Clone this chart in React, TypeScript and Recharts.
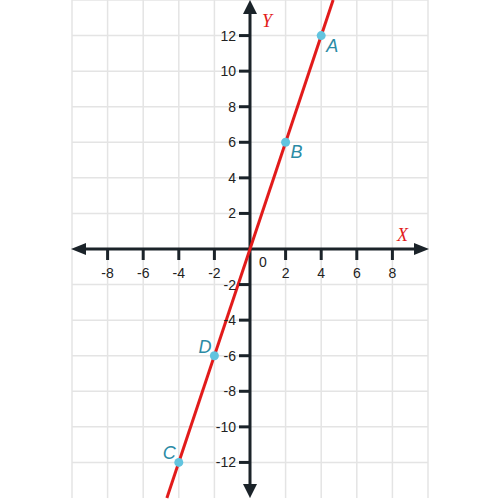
import React from "react";
import { ScatterChart, Scatter, XAxis, YAxis, CartesianGrid, ReferenceLine, ReferenceDot } from "recharts";

// grid + tick values
const gridX = [-10, -8, -6, -4, -2, 0, 2, 4, 6, 8, 10];
const gridY = [-14, -12, -10, -8, -6, -4, -2, 0, 2, 4, 6, 8, 10, 12, 14];
const xTicks = [-8, -6, -4, -2, 2, 4, 6, 8];
const yTicks = [-12, -10, -8, -6, -4, -2, 2, 4, 6, 8, 10, 12];

// points on the line
const pointNames = ["A", "B", "C", "D"];
const pointX = [4, 2, -4, -2];
const pointY = [12, 6, -12, -6];

// line ends (top and bottom of the plane)
const lineX = [-4.67, 4.67];
const lineY = [-14, 14];

const points = pointNames.map((name, i) => ({ name, x: pointX[i], y: pointY[i] }));
const lineData = lineX.map((x, i) => ({ x, y: lineY[i] }));

const AXIS = "#1b2329";
const RED = "#e21b1b";
const SANS = "'Liberation Sans', Arial, sans-serif";
const SERIF = "'Liberation Serif', 'Times New Roman', serif";

function XAxisShape(props: any) {
  const { x1, y1, x2 } = props;
  const y = y1;
  return (
    <g>
      <line x1={x1 + 10} y1={y} x2={x2 - 10} y2={y} stroke={AXIS} strokeWidth={3} />
      <polygon points={`${x1 - 1},${y} ${x1 + 14},${y - 6} ${x1 + 14},${y + 6}`} fill={AXIS} />
      <polygon points={`${x2 + 1},${y} ${x2 - 14},${y - 6} ${x2 - 14},${y + 6}`} fill={AXIS} />
      <text x={x2 - 31} y={y - 8} fill={RED} fontFamily={SERIF} fontStyle="italic" fontSize={18}>X</text>
    </g>
  );
}

function YAxisShape(props: any) {
  const { x1, y1, y2 } = props;
  const x = x1;
  const top = Math.min(y1, y2);
  const bottom = Math.max(y1, y2);
  return (
    <g>
      <line x1={x} y1={top + 10} x2={x} y2={bottom - 10} stroke={AXIS} strokeWidth={3} />
      <polygon points={`${x},${top} ${x - 7},${top + 14} ${x + 7},${top + 14}`} fill={AXIS} />
      <polygon points={`${x},${bottom} ${x - 7},${bottom - 14} ${x + 7},${bottom - 14}`} fill={AXIS} />
      <text x={x + 12} y={top + 27} fill={RED} fontFamily={SERIF} fontStyle="italic" fontSize={18}>Y</text>
    </g>
  );
}

const xTickShape = (label: number) => (p: any) => (
  <g>
    <line x1={p.cx} y1={p.cy} x2={p.cx} y2={p.cy + 11} stroke={AXIS} strokeWidth={3} />
    <text x={p.cx} y={p.cy + 29} textAnchor="middle" fill="#222" fontFamily={SANS} fontSize={14}>{label}</text>
  </g>
);

const yTickShape = (label: number) => (p: any) => (
  <g>
    <line x1={p.cx - 11} y1={p.cy} x2={p.cx} y2={p.cy} stroke={AXIS} strokeWidth={3} />
    <text x={p.cx - 14} y={p.cy + 5} textAnchor="end" fill="#222" fontFamily={SANS} fontSize={14}>{label}</text>
  </g>
);

const originShape = (p: any) => (
  <text x={p.cx + 13} y={p.cy + 18} textAnchor="middle" fill="#222" fontFamily={SANS} fontSize={14}>0</text>
);

function PointShape(props: any) {
  const { cx, cy, payload } = props;
  const right = payload.x > 0;
  return (
    <g>
      <circle cx={cx} cy={cy} r={4.5} fill="#62c4df" />
      <text
        x={right ? cx + 5 : cx - 3}
        y={right ? cy + 16 : cy - 3}
        textAnchor={right ? "start" : "end"}
        fill="#2b8ba5"
        fontFamily={SANS}
        fontStyle="italic"
        fontSize={18}
      >
        {payload.name}
      </text>
    </g>
  );
}

export default function App() {
  return (
    <div style={{ position: "absolute", left: 0, top: 0, width: 500, height: 500, background: "#fff" }}>
      <ScatterChart width={500} height={500} margin={{ top: 0, right: 72, bottom: 2, left: 72 }}>
        <CartesianGrid stroke="#e4e4e4" strokeWidth={1.5} verticalValues={gridX} horizontalValues={gridY} />
        <XAxis type="number" dataKey="x" domain={[-10, 10]} ticks={gridX} hide />
        <YAxis type="number" dataKey="y" domain={[-14, 14]} ticks={gridY} hide />
        <Scatter data={lineData} line={{ stroke: RED, strokeWidth: 3 }} shape={() => null} isAnimationActive={false} />
        <ReferenceLine y={0} shape={XAxisShape} />
        <ReferenceLine x={0} shape={YAxisShape} />
        {xTicks.map((t) => (
          <ReferenceDot key={"x" + t} x={t} y={0} r={0} shape={xTickShape(t)} />
        ))}
        {yTicks.map((t) => (
          <ReferenceDot key={"y" + t} x={0} y={t} r={0} shape={yTickShape(t)} />
        ))}
        <ReferenceDot x={0} y={0} r={0} shape={originShape} />
        <Scatter data={points} shape={PointShape} isAnimationActive={false} />
      </ScatterChart>
    </div>
  );
}
